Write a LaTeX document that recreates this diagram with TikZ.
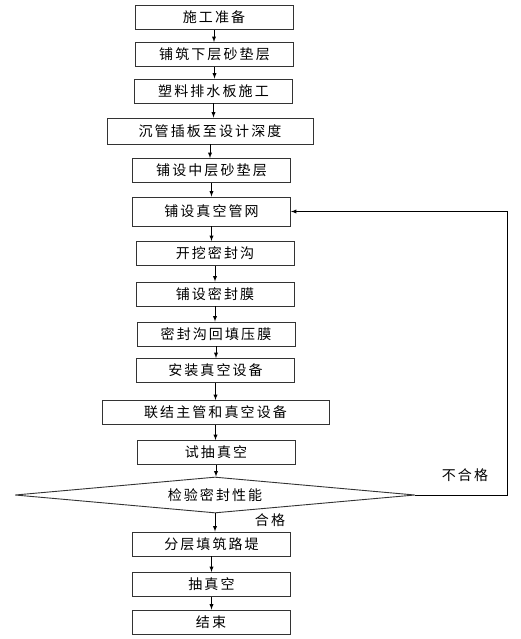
\documentclass[tikz,border=0pt]{standalone}
\usepackage{fontspec}
\usepackage{tikz}
\usetikzlibrary{arrows,shapes.geometric}
\newfontfamily\cjk[LetterSpace=15]{Noto Sans CJK SC}

\begin{document}
\begin{tikzpicture} [x = 1pt, y = -1pt, font = \cjk\fontsize{14}{16}\selectfont, >=latex,
	box/.style = {draw = black!80, line width = 0.9pt, inner sep = 0pt, minimum width = 158pt, minimum height = 24pt},
	arr/.style = {->, line width = 0.9pt}]
	\useasboundingbox (0,0) rectangle (520,639);
	\node [box] (prep) at (214,17.5) {施工准备};
	\node [box] (sandlow) at (214.5,54.5) {铺筑下层砂垫层};
	\node [box] (drain) at (213.5,91) {塑料排水板施工};
	\node [box, minimum width = 206pt, minimum height = 26pt] (sink) at (210,131) {沉管插板至设计深度};
	\node [box] (sandmid) at (211.5,170.5) {铺设中层砂垫层};
	\node [box, minimum height = 29pt] (pipe) at (211.5,211.5) {铺设真空管网};
	\node [box] (ditch) at (215,253.5) {开挖密封沟};
	\node [box] (film) at (215,294) {铺设密封膜};
	\node [box] (fill) at (216,334) {密封沟回填压膜};
	\node [box] (pump) at (215.5,370.5) {安装真空设备};
	\node [box, minimum width = 227pt] (link) at (215.5,412.5) {联结主管和真空设备};
	\node [box] (trial) at (216,452.5) {试抽真空};
	\node [draw = black!80, line width = 0.9pt, diamond, shape aspect = 11, inner sep = 0pt, minimum width = 400pt, minimum height = 36pt] (check) at (215,495) {检验密封性能};
	\node [box] (layer) at (211.5,544) {分层填筑路堤};
	\node [box] (vac) at (211.5,584.5) {抽真空};
	\node [box] (finish) at (211,622) {结束};
	% main line
	\foreach \a/\b in {prep/sandlow, sandlow/drain, drain/sink, sink/sandmid, sandmid/pipe, pipe/ditch, ditch/film, film/fill, fill/pump, pump/link, link/trial, trial/check, check/layer, layer/vac, vac/finish}
		\draw [arr] (\a) -- (\a |- \b.north);
	% loop back
	\coordinate (back) at (507,495);
	\draw [arr] (check.east) -- (back) |- (pipe.east);
	\node (fail) at (465,475) {不合格};
	\node (pass) at (270,520) {合格};
\end{tikzpicture}
\end{document}
